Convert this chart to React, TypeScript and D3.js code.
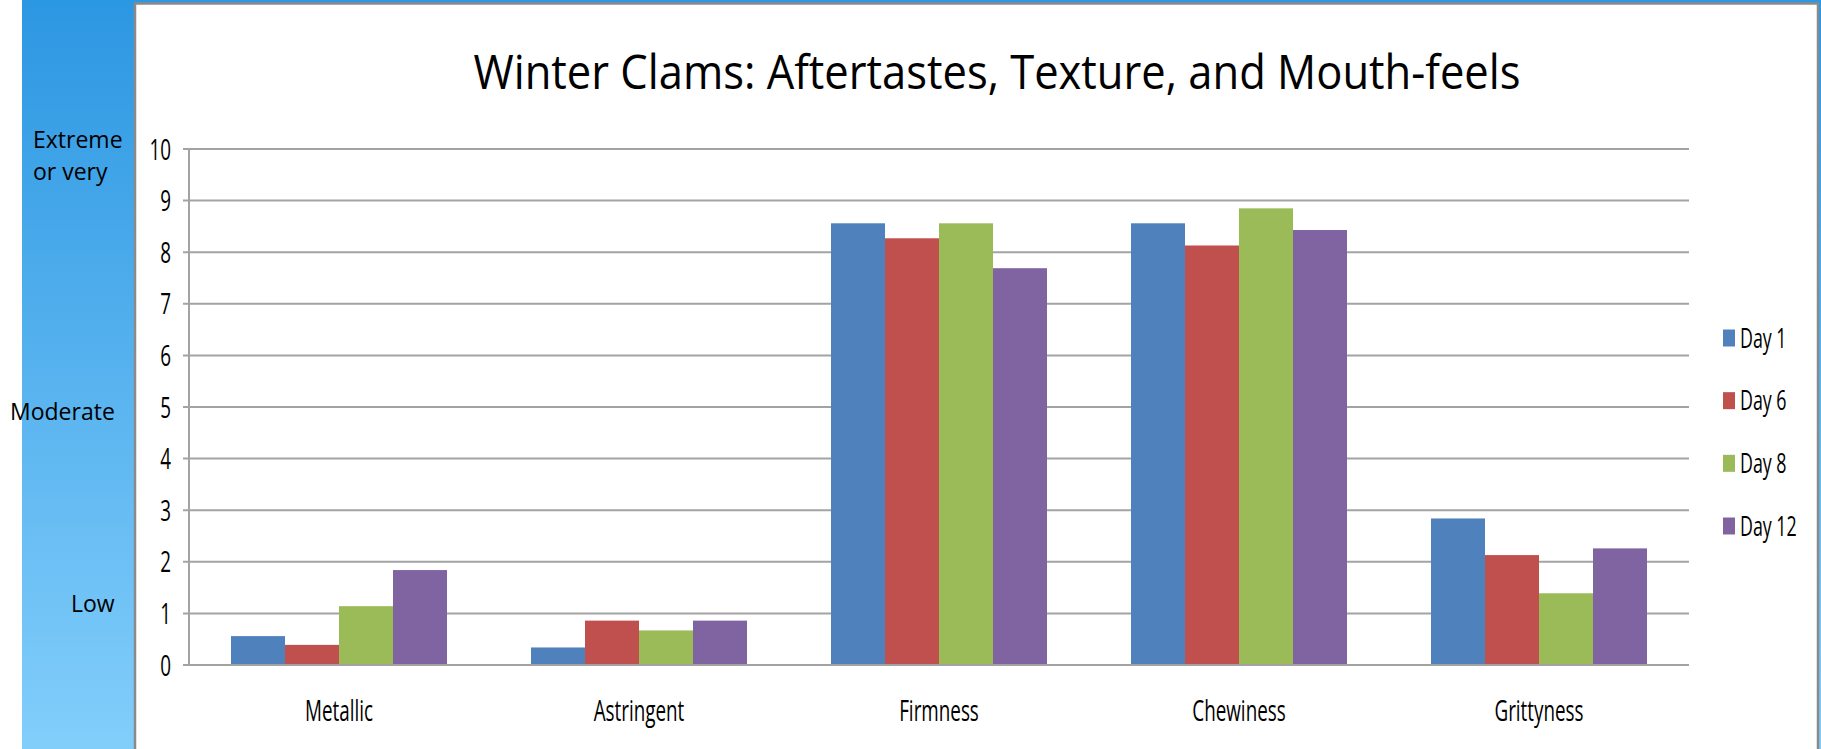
import React from "react";
import * as d3 from "d3";

const categories = ["Metallic", "Astringent", "Firmness", "Chewiness", "Grittyness"];
const seriesNames = ["Day 1", "Day 6", "Day 8", "Day 12"];
const day1 = [0.56, 0.34, 8.56, 8.56, 2.84];
const day6 = [0.39, 0.86, 8.27, 8.13, 2.13];
const day8 = [1.14, 0.67, 8.56, 8.85, 1.39];
const day12 = [1.84, 0.86, 7.69, 8.43, 2.26];
const seriesValues = [day1, day6, day8, day12];
const colors = ["#4F81BD", "#C0504D", "#9BBB59", "#8064A2"];
const yTicks = [0, 1, 2, 3, 4, 5, 6, 7, 8, 9, 10];
const sideLabels = [
  { lines: ["Extreme", "or very"], x: 33, y: 148 },
  { lines: ["Moderate"], x: 10, y: 420 },
  { lines: ["Low"], x: 71, y: 612 },
];
const title = "Winter Clams: Aftertastes, Texture, and Mouth-feels";

const W = 1821;
const H = 749;
const plotLeft = 189;
const plotRight = 1689;
const plotTop = 149;
const plotBottom = 665;
const FONT = "'Open Sans', 'Noto Sans', sans-serif";

export default function App() {
  const x0 = d3
    .scaleBand<string>()
    .domain(categories)
    .range([plotLeft, plotRight])
    .paddingInner(0.28)
    .paddingOuter(0.14);
  const x1 = d3
    .scaleBand<string>()
    .domain(seriesNames)
    .range([0, x0.bandwidth()])
    .padding(0);
  const y = d3.scaleLinear().domain([0, 10]).range([plotBottom, plotTop]);
  const legendY = d3
    .scalePoint<string>()
    .domain(seriesNames)
    .range([338, 526]);

  const gridColor = "#A3A3A3";

  return (
    <svg
      width={W}
      height={H}
      style={{ position: "absolute", left: 0, top: 0, display: "block" }}
    >
      <defs>
        <linearGradient id="bg" x1="0" y1="0" x2="0" y2="1">
          <stop offset="0%" stopColor="#2C97E2" />
          <stop offset="100%" stopColor="#82CEFB" />
        </linearGradient>
      </defs>
      <rect x={0} y={0} width={W} height={H} fill="#FFFFFF" />
      <rect x={22} y={0} width={W - 22} height={H} fill="url(#bg)" />
      <rect
        x={135}
        y={3.5}
        width={1818 - 135}
        height={H}
        fill="#FFFFFF"
        stroke="#8A8A8A"
        strokeWidth={2.5}
      />

      {/* side labels */}
      {sideLabels.map((s, i) =>
        s.lines.map((ln, j) => (
          <text
            key={`${i}-${j}`}
            x={s.x}
            y={s.y + j * 32}
            fontFamily={FONT}
            fontSize={23}
            fill="#000"
          >
            {ln}
          </text>
        ))
      )}

      {/* title */}
      <text
        x={997}
        y={89}
        textAnchor="middle"
        fontFamily={FONT}
        fontSize={47}
        fill="#000"
        textLength={1047}
        lengthAdjust="spacingAndGlyphs"
      >
        {title}
      </text>

      {/* gridlines */}
      {yTicks.map((t) => (
        <line
          key={t}
          x1={plotLeft - 6}
          x2={plotRight}
          y1={y(t)}
          y2={y(t)}
          stroke={gridColor}
          strokeWidth={2}
        />
      ))}
      <line
        x1={plotLeft}
        x2={plotLeft}
        y1={plotTop}
        y2={plotBottom}
        stroke={gridColor}
        strokeWidth={2}
      />

      {/* y tick labels */}
      {yTicks.map((t) => (
        <text
          key={t}
          transform={`translate(171, ${y(t) + 10.5}) scale(0.65, 1)`}
          textAnchor="end"
          fontFamily={FONT}
          fontSize={29}
          fill="#000"
        >
          {t}
        </text>
      ))}

      {/* bars */}
      {categories.map((c, ci) => (
        <g key={c} transform={`translate(${x0(c)}, 0)`}>
          {seriesNames.map((s, si) => {
            const v = seriesValues[si][ci];
            return (
              <rect
                key={s}
                x={x1(s)}
                y={y(v)}
                width={x1.bandwidth()}
                height={y(0) - y(v)}
                fill={colors[si]}
              />
            );
          })}
        </g>
      ))}
      <line
        x1={plotLeft - 6}
        x2={plotRight}
        y1={y(0)}
        y2={y(0)}
        stroke={gridColor}
        strokeWidth={2}
      />

      {/* category labels */}
      {categories.map((c) => (
        <text
          key={c}
          transform={`translate(${(x0(c) as number) + x0.bandwidth() / 2}, 721) scale(0.65, 1)`}
          textAnchor="middle"
          fontFamily={FONT}
          fontSize={29}
          fill="#000"
        >
          {c}
        </text>
      ))}

      {/* legend */}
      {seriesNames.map((s, si) => {
        const cy = legendY(s) as number;
        return (
          <g key={s}>
            <rect x={1723} y={cy - 8.5} width={12} height={17} fill={colors[si]} />
            <text
              transform={`translate(1740, ${cy + 9.5}) scale(0.66, 1)`}
              fontFamily={FONT}
              fontSize={27}
              fill="#000"
            >
              {s}
            </text>
          </g>
        );
      })}
    </svg>
  );
}
